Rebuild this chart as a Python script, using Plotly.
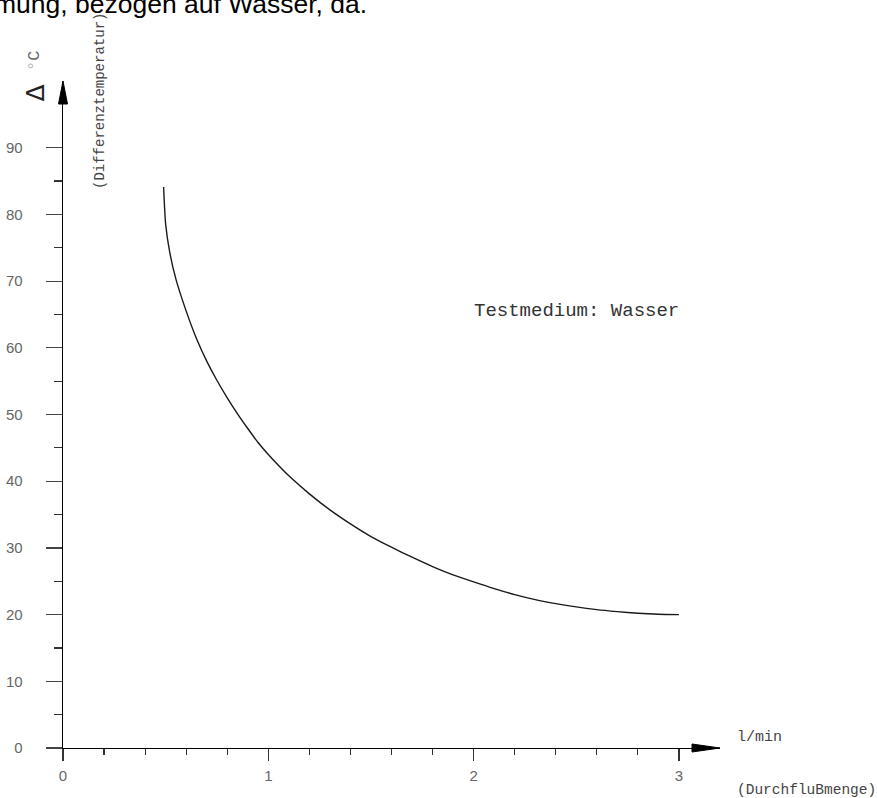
import plotly.graph_objects as go

# ---- data ----
flow_lpm = [0.49, 0.50, 0.52, 0.55, 0.60, 0.65, 0.70, 0.75, 0.80, 0.85, 0.90, 0.95,
            1.0, 1.05, 1.1, 1.2, 1.3, 1.4, 1.5, 1.6, 1.7, 1.8, 1.9,
            2.0, 2.1, 2.2, 2.3, 2.4, 2.5, 2.6, 2.7, 2.8, 2.9, 3.0]
delta_t = [84.1, 78.5, 74.3, 70.3, 65.5, 61.4, 58.0, 55.1, 52.5, 50.1, 47.9, 45.8,
           44.0, 42.35, 40.8, 38.1, 35.7, 33.6, 31.7, 30.1, 28.6, 27.2, 25.95,
           24.9, 23.9, 23.0, 22.25, 21.65, 21.15, 20.75, 20.45, 20.2, 20.05, 20.0]

x_major = [0, 1, 2, 3]
x_major_labels = ["0", "1", "2", "3"]
x_minor = [0.2, 0.4, 0.6, 0.8, 1.2, 1.4, 1.6, 1.8, 2.2, 2.4, 2.6, 2.8]
y_major = [0, 10, 20, 30, 40, 50, 60, 70, 80, 90]
y_major_labels = ["0", "10", "20", "30", "40", "50", "60", "70", "80", "90"]
y_minor = [5, 15, 25, 35, 45, 55, 65, 75, 85]

X_MAX = 3.2
Y_MAX = 100

W, H = 877, 798
ML, MR, MT, MB = 63, 157, 81, 50
PW, PH = W - ML - MR, H - MT - MB


def px(xp):
    return (xp - ML) / PW


def py(yp):
    return (H - MB - yp) / PH


fig = go.Figure()
fig.add_trace(go.Scatter(
    x=flow_lpm, y=delta_t, mode="lines",
    line=dict(color="#1a1a1a", width=1.4, shape="spline", smoothing=0.6),
    hoverinfo="skip", showlegend=False,
))

tick_font = dict(family="Liberation Sans, Arial, sans-serif", size=15, color="#666666")
mono = "Liberation Mono, Courier New, monospace"

fig.update_layout(
    template="none",
    width=W, height=H,
    margin=dict(l=ML, r=MR, t=MT, b=MB, pad=0, autoexpand=False),
    paper_bgcolor="white", plot_bgcolor="white",
    showlegend=False,
    xaxis=dict(
        range=[0, X_MAX], showgrid=False, zeroline=False, automargin=False,
        showline=True, linecolor="black", linewidth=1.3,
        tickmode="array", tickvals=x_major, ticktext=x_major_labels,
        ticks="outside", ticklen=12, tickwidth=1.2, tickcolor="#333333",
        tickfont=tick_font, ticklabelstandoff=2,
        minor=dict(tickmode="array", tickvals=x_minor, ticks="outside",
                   ticklen=6, tickwidth=1.2, tickcolor="#333333", showgrid=False),
        fixedrange=True,
    ),
    yaxis=dict(
        range=[0, Y_MAX], showgrid=False, zeroline=False, automargin=False,
        showline=True, linecolor="black", linewidth=1.3,
        tickmode="array", tickvals=y_major, ticktext=y_major_labels,
        ticks="outside", ticklen=16, tickwidth=1.2, tickcolor="#444444",
        tickfont=tick_font, ticklabelstandoff=20,
        minor=dict(tickmode="array", tickvals=y_minor, ticks="outside",
                   ticklen=8, tickwidth=1.2, tickcolor="#333333", showgrid=False),
        fixedrange=True,
    ),
    shapes=[
        # arrowhead on the y axis
        dict(type="path", xref="paper", yref="paper",
             xsizemode="pixel", ysizemode="pixel", xanchor=0, yanchor=1,
             path="M -4.5,-23 L 0,0 L 4.5,-23 Z",
             fillcolor="black", line=dict(color="black", width=1)),
        # arrowhead on the x axis
        dict(type="path", xref="paper", yref="paper",
             xsizemode="pixel", ysizemode="pixel", xanchor=1, yanchor=0,
             path="M -28,4 L 0,0 L -28,-4 Z",
             fillcolor="black", line=dict(color="black", width=1)),
    ],
    annotations=[
        dict(text="mung, bezogen auf Wasser, da.", xref="paper", yref="paper",
             x=px(369), y=py(3.5), xanchor="right", yanchor="middle", showarrow=False,
             font=dict(family="Liberation Sans, Arial, sans-serif", size=26.5, color="black")),
        dict(text="(Differenztemperatur)", xref="paper", yref="paper",
             x=px(100), y=py(101), xanchor="center", yanchor="middle", showarrow=False,
             textangle=-90, font=dict(family=mono, size=14, color="#444444")),
        dict(text="Δ", xref="paper", yref="paper",
             x=px(35), y=py(93.5), xanchor="center", yanchor="middle", showarrow=False,
             textangle=-90, font=dict(family="DejaVu Sans, sans-serif", size=25, color="#222222")),
        dict(text="<span style='color:#b0b0b0'>°</span>C", xref="paper", yref="paper",
             x=px(34), y=py(61), xanchor="center", yanchor="middle", showarrow=False,
             textangle=-90, font=dict(family=mono, size=17, color="#666666")),
        dict(text="Testmedium: Wasser", xref="paper", yref="paper",
             x=px(576), y=py(311), xanchor="center", yanchor="middle", showarrow=False,
             font=dict(family=mono, size=19, color="#333333")),
        dict(text="l/min", xref="paper", yref="paper",
             x=px(735), y=py(737), xanchor="left", yanchor="middle", showarrow=False,
             font=dict(family=mono, size=15, color="#444444")),
        dict(text="(DurchfluBmenge)", xref="paper", yref="paper",
             x=px(735), y=py(790), xanchor="left", yanchor="middle", showarrow=False,
             font=dict(family=mono, size=14.5, color="#444444")),
    ],
)

fig.write_html("out.html", config={"displayModeBar": False, "staticPlot": True},
               post_script="document.body.style.margin='0';")
